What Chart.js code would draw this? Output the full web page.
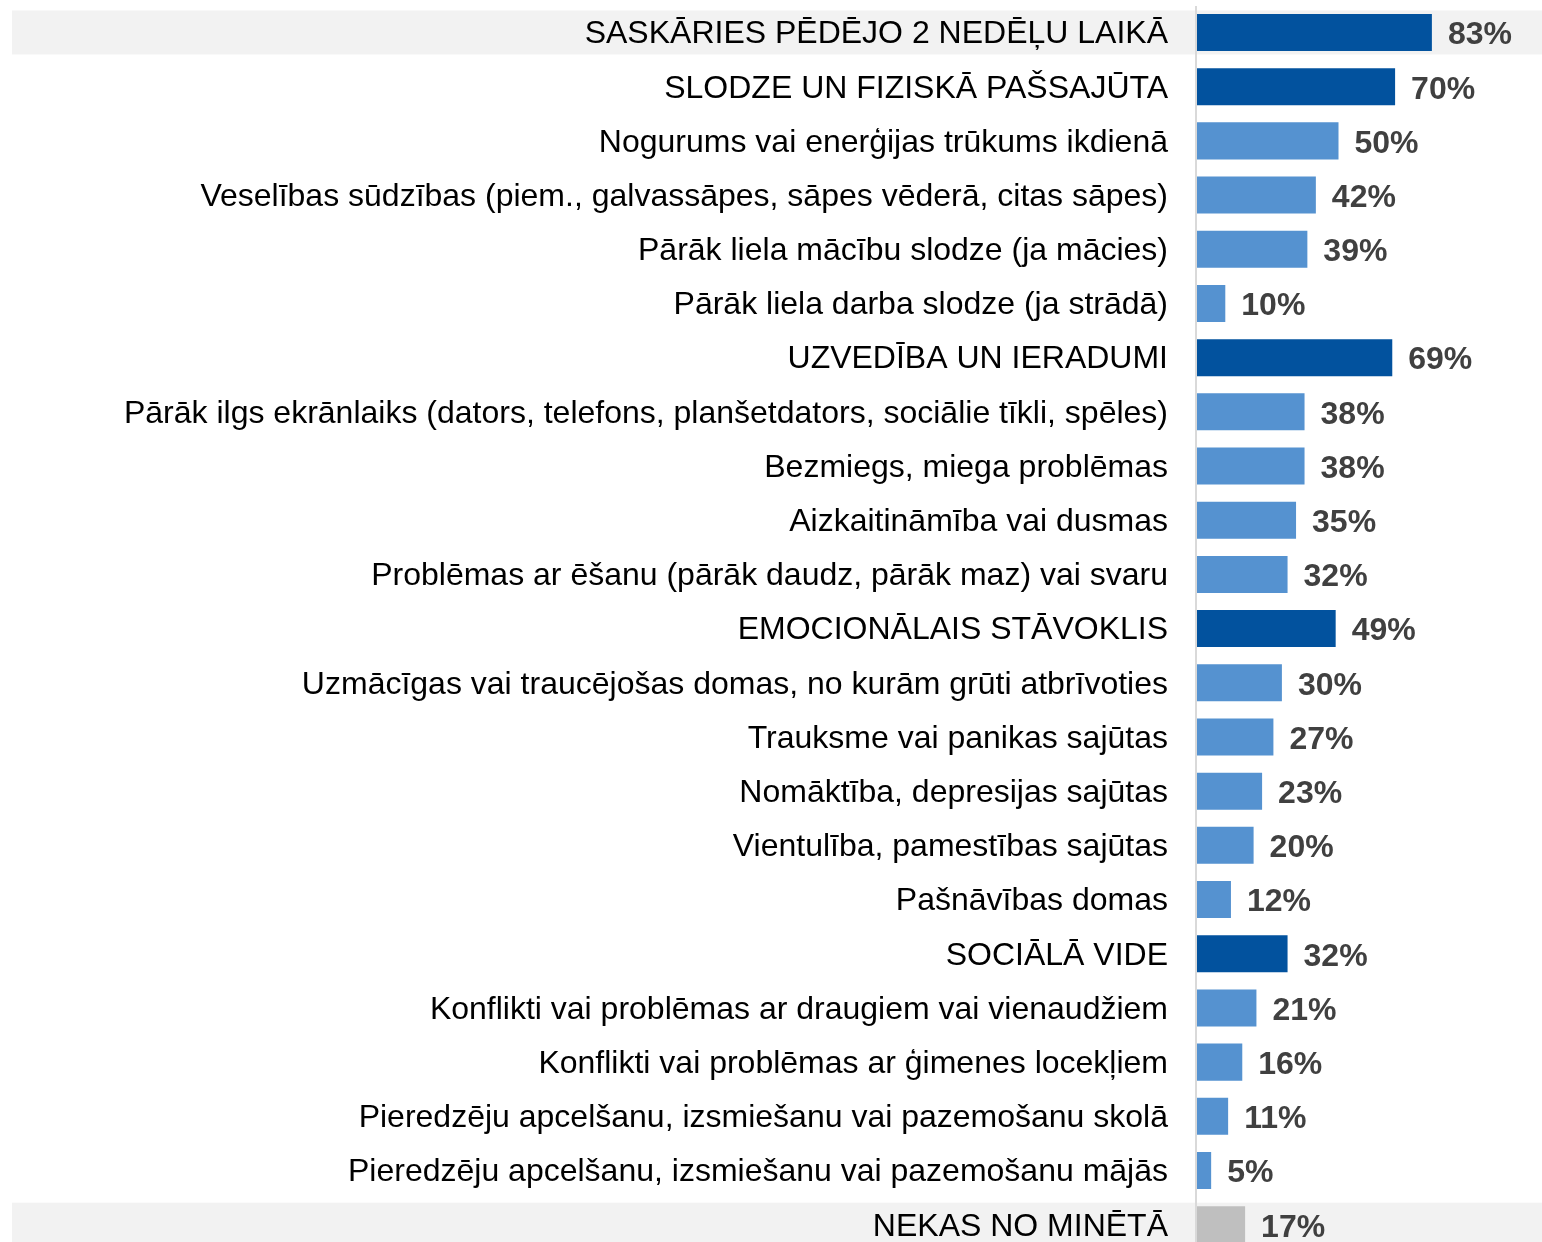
<!DOCTYPE html>
<html>
<head>
<meta charset="utf-8">
<script src="https://cdn.jsdelivr.net/npm/chart.js@4/dist/chart.umd.min.js"></script>
<style>
  html, body { margin: 0; padding: 0; background: #fff; overflow: hidden; }
  #wrap { position: relative; width: 1542px; height: 1256px; }
</style>
</head>
<body>
<div id="wrap"><canvas id="c"></canvas></div>
<script>
const categories = [
  "SASKĀRIES PĒDĒJO 2 NEDĒĻU LAIKĀ",
  "SLODZE UN FIZISKĀ PAŠSAJŪTA",
  "Nogurums vai enerģijas trūkums ikdienā",
  "Veselības sūdzības (piem., galvassāpes, sāpes vēderā, citas sāpes)",
  "Pārāk liela mācību slodze (ja mācies)",
  "Pārāk liela darba slodze (ja strādā)",
  "UZVEDĪBA UN IERADUMI",
  "Pārāk ilgs ekrānlaiks (dators, telefons, planšetdators, sociālie tīkli, spēles)",
  "Bezmiegs, miega problēmas",
  "Aizkaitināmība vai dusmas",
  "Problēmas ar ēšanu (pārāk daudz, pārāk maz) vai svaru",
  "EMOCIONĀLAIS STĀVOKLIS",
  "Uzmācīgas vai traucējošas domas, no kurām grūti atbrīvoties",
  "Trauksme vai panikas sajūtas",
  "Nomāktība, depresijas sajūtas",
  "Vientulība, pamestības sajūtas",
  "Pašnāvības domas",
  "SOCIĀLĀ VIDE",
  "Konflikti vai problēmas ar draugiem vai vienaudžiem",
  "Konflikti vai problēmas ar ģimenes locekļiem",
  "Pieredzēju apcelšanu, izsmiešanu vai pazemošanu skolā",
  "Pieredzēju apcelšanu, izsmiešanu vai pazemošanu mājās",
  "NEKAS NO MINĒTĀ"
];
const values = [83, 70, 50, 42, 39, 10, 69, 38, 38, 35, 32, 49, 30, 27, 23, 20, 12, 32, 21, 16, 11, 5, 17];
// row type: h = heading, s = sub-item, n = none
const rowTypes = ["h","h","s","s","s","s","h","s","s","s","s","h","s","s","s","s","s","h","s","s","s","s","n"];
const highlightedRows = [0, 22];

const COLORS = { h: "#02529E", s: "#5592D0", n: "#BFBFBF" };
const FONT = "'Liberation Sans', Arial, Helvetica, sans-serif";

const bandPlugin = {
  id: "bands",
  beforeDraw(chart) {
    const ctx = chart.ctx;
    const meta = chart.getDatasetMeta(0);
    ctx.save();
    ctx.fillStyle = "#F2F2F2";
    highlightedRows.forEach(i => {
      const el = meta.data[i];
      ctx.fillRect(12, el.y - 22, chart.width - 12, 44);
    });
    // vertical axis line
    ctx.fillStyle = "#D9D9D9";
    ctx.fillRect(chart.chartArea.left - 2, 6, 2, chart.height);
    ctx.restore();
  }
};

const valueLabelPlugin = {
  id: "valueLabels",
  afterDatasetsDraw(chart) {
    const ctx = chart.ctx;
    const meta = chart.getDatasetMeta(0);
    ctx.save();
    ctx.font = "bold 32px " + FONT;
    ctx.fillStyle = "#404040";
    ctx.textAlign = "left";
    ctx.textBaseline = "middle";
    meta.data.forEach((el, i) => {
      ctx.fillText(values[i] + "%", el.x + 16, el.y + 3);
    });
    ctx.restore();
  }
};

new Chart(document.getElementById("c"), {
  type: "bar",
  data: {
    labels: categories,
    datasets: [{
      data: values,
      backgroundColor: rowTypes.map(t => COLORS[t]),
      borderWidth: 0,
      categoryPercentage: 1.0,
      barPercentage: 0.683
    }]
  },
  options: {
    indexAxis: "y",
    responsive: true,
    maintainAspectRatio: false,
    animation: false,
    layout: { padding: { top: 5.4, right: 62, bottom: 4.2, left: 0 } },
    plugins: {
      legend: { display: false },
      tooltip: { enabled: false }
    },
    scales: {
      x: {
        display: false,
        min: 0,
        max: 100
      },
      y: {
        afterFit(scale) {
          scale.width = 1197;
          scale.paddingTop = 0;
          scale.paddingBottom = 0;
        },
        grid: { display: false, drawTicks: false },
        border: { display: false },
        ticks: {
          padding: 29,
          labelOffset: 2,
          color: "#000000",
          autoSkip: false,
          font: { family: FONT, size: 32, lineHeight: 0.3 }
        }
      }
    }
  },
  plugins: [bandPlugin, valueLabelPlugin]
});
</script>
</body>
</html>
